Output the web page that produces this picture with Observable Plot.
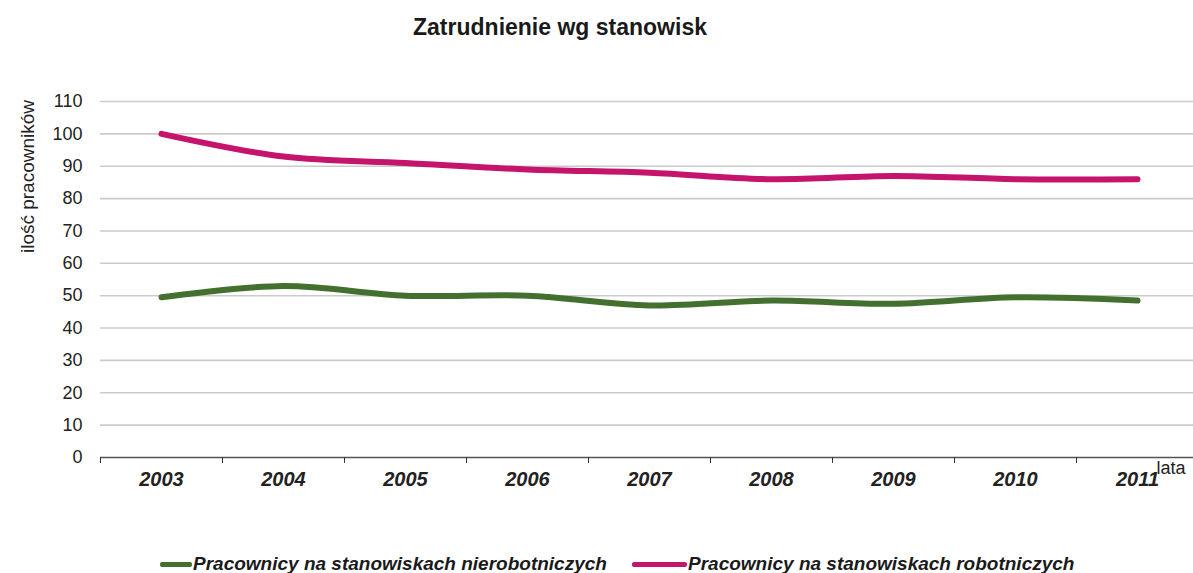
<!DOCTYPE html>
<html>
<head>
<meta charset="utf-8">
<script src="https://cdn.jsdelivr.net/npm/d3@7"></script>
<script src="https://cdn.jsdelivr.net/npm/@observablehq/plot@0.6"></script>
<style>
  body { margin: 0; background: #fff; font-family: Arial, "Liberation Sans", sans-serif; width: 1193px; height: 573px; overflow: hidden; position: relative; }
  #title { position: absolute; left: 0; top: 14px; width: 1120px; text-align: center; font-weight: bold; font-size: 23px; color: #1a1a1a; }
  #chart { position: absolute; left: 0; top: 60px; }
  #legend { position: absolute; top: 553px; left: 0; width: 1193px; height: 24px; }
  .item { position: absolute; top: 0; display: flex; align-items: center; font-family: Arial, "Liberation Sans", sans-serif; font-weight: bold; font-style: italic; font-size: 19px; color: #1a1a1a; white-space: nowrap; }
  .swatch { display: inline-block; width: 32px; height: 5px; border-radius: 2px; margin-right: 1px; }
</style>
</head>
<body>
<div id="title">Zatrudnienie wg stanowisk</div>
<div id="chart"></div>
<div id="legend"></div>
<script>
// Years on the category axis
const years = [2003, 2004, 2005, 2006, 2007, 2008, 2009, 2010, 2011];
// Band edges between years, where the small axis ticks sit
const yearEdges = [2002.5, 2003.5, 2004.5, 2005.5, 2006.5, 2007.5, 2008.5, 2009.5, 2010.5];
// Employee counts per series
const nierobotnicze = [49.5, 53, 50, 50, 47, 48.5, 47.5, 49.5, 48.5];
const robotnicze = [100, 93, 91, 89, 88, 86, 87, 86, 86];
// Y axis tick values
const yTicks = [0, 10, 20, 30, 40, 50, 60, 70, 80, 90, 100, 110];

const seriesNames = [
  "Pracownicy na stanowiskach nierobotniczych",
  "Pracownicy na stanowiskach robotniczych"
];
const seriesColors = ["#44702f", "#c4146b"];
const seriesValues = [nierobotnicze, robotnicze];

const rows = seriesNames.flatMap((name, i) =>
  years.map((year, j) => ({ series: name, year, value: seriesValues[i][j] }))
);

const chart = Plot.plot({
  width: 1193,
  height: 440,
  marginTop: 41,
  marginBottom: 43,
  marginLeft: 100,
  marginRight: 0,
  style: { fontFamily: "Arial, 'Liberation Sans', sans-serif", background: "transparent", color: "#222" },
  x: { domain: [2002.5, 2011.5], range: [100, 1198] },
  y: { domain: [0, 110], range: [397, 41] },
  color: { domain: seriesNames, range: seriesColors },
  marks: [
    Plot.ruleY(yTicks.filter(d => d > 0), { stroke: "#cbcbcb", strokeWidth: 1.6 }),
    Plot.axisY({ ticks: yTicks, tickSize: 0, tickPadding: 18, fontSize: 18, label: null }),
    Plot.ruleY([0], { stroke: "#555", strokeWidth: 1.5 }),
    Plot.axisX({ ticks: yearEdges, tickSize: 6, tickFormat: () => "", label: null, stroke: "#333" }),
    Plot.axisX({ ticks: years, tickSize: 0, tickPadding: 14, tickFormat: d => String(d), fontSize: 20, fontWeight: "bold", fontStyle: "italic", label: null }),
    Plot.text(["lata"], { frameAnchor: "bottom-right", textAnchor: "end", lineAnchor: "middle", dx: -8, dy: 11, fontSize: 18 }),
    Plot.text(["ilość pracowników"], { frameAnchor: "top-left", textAnchor: "middle", lineAnchor: "middle", rotate: -90, dx: -73, dy: 75, fontSize: 19 }),
    Plot.line(rows, { x: "year", y: "value", z: "series", stroke: "series", strokeWidth: 6, curve: "catmull-rom", strokeLinecap: "round" })
  ]
});
document.getElementById("chart").appendChild(chart);

// Legend below the chart
const legend = document.getElementById("legend");
const legendLeft = [160, 632];
seriesNames.forEach((name, i) => {
  const item = document.createElement("div");
  item.className = "item";
  item.style.left = legendLeft[i] + "px";
  const sw = document.createElement("span");
  sw.className = "swatch";
  sw.style.background = seriesColors[i];
  if (i === 1) sw.style.width = "55px";
  item.appendChild(sw);
  item.appendChild(document.createTextNode(name));
  legend.appendChild(item);
});
</script>
</body>
</html>
